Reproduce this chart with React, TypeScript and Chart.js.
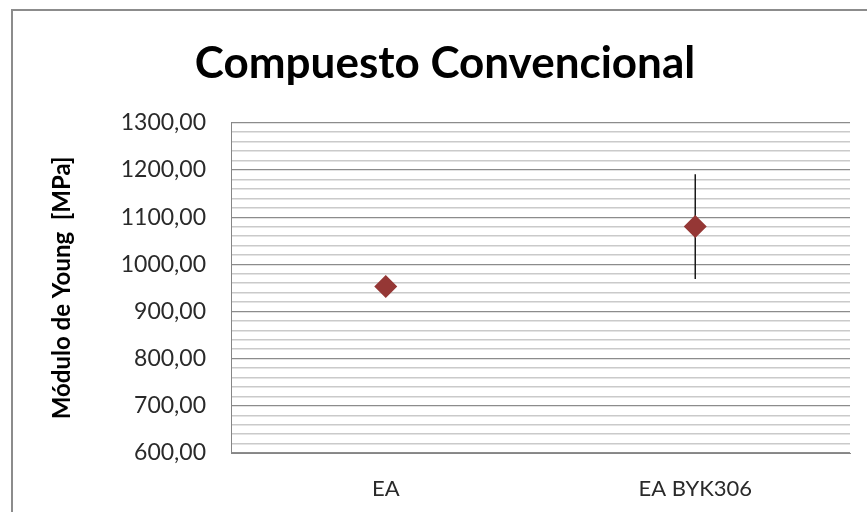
import React, { useEffect, useRef } from "react";
import { Chart, registerables } from "chart.js";

Chart.register(...registerables);

const categories = ["EA", "EA BYK306"];
const youngModulus = [953, 1080];
const youngError = [0, 111];
const yMin = 600;
const yMax = 1300;
const yStep = 20;
const yLabelStep = 100;

const FONT = "Lato, 'Open Sans', sans-serif";

const errorBarPlugin = {
  id: "errorBars",
  beforeDatasetsDraw(chart: any) {
    const { ctx, scales } = chart;
    const xs = scales.x;
    const ys = scales.y;
    ctx.save();
    ctx.strokeStyle = "#1a1a1a";
    ctx.lineWidth = 1.5;
    youngModulus.forEach((v, i) => {
      const e = youngError[i];
      if (!e) return;
      const x = xs.getPixelForValue(i);
      ctx.beginPath();
      ctx.moveTo(x, ys.getPixelForValue(v + e));
      ctx.lineTo(x, ys.getPixelForValue(v - e));
      ctx.stroke();
    });
    ctx.restore();
  },
};

export default function App() {
  const ref = useRef<HTMLCanvasElement>(null);
  useEffect(() => {
    if (!ref.current) return;
    const chart = new Chart(ref.current, {
      type: "line",
      data: {
        labels: categories,
        datasets: [
          {
            label: "Módulo de Young",
            data: youngModulus,
            showLine: false,
            pointStyle: "rectRot",
            pointRadius: 11.5,
            pointHoverRadius: 11.5,
            backgroundColor: "#953735",
            borderColor: "#953735",
            borderWidth: 0,
          },
        ],
      },
      options: {
        responsive: false,
        animation: false,
        events: [],
        layout: { padding: { left: 40, right: 17, top: 0, bottom: 0 } },
        plugins: {
          legend: { display: false },
          tooltip: { enabled: false },
          title: {
            display: true,
            text: "Compuesto Convencional",
            color: "#000",
            font: { family: FONT, size: 44, weight: "bold" },
            padding: { top: 37, bottom: 33 },
          },
        },
        scales: {
          x: {
            type: "category",
            offset: true,
            grid: { display: false, drawTicks: false },
            border: { display: true, color: "#868686", width: 1 },
            ticks: {
              color: "#2a2a2a",
              font: { family: FONT, size: 22 },
              padding: 23,
            },
            afterFit(scale: any) {
              scale.height = 59;
            },
          },
          y: {
            min: yMin,
            max: yMax,
            grid: {
              drawTicks: false,
              color: (c: any) =>
                c.tick && c.tick.value % yLabelStep === 0 ? "#8c8c8c" : "#cacaca",
              lineWidth: (c: any) =>
                c.tick && c.tick.value % yLabelStep === 0 ? 1.2 : 1.5,
            },
            border: { display: true, color: "#868686", width: 1 },
            ticks: {
              stepSize: yStep,
              autoSkip: false,
              color: "#2a2a2a",
              font: { family: FONT, size: 23 },
              padding: 25,
              callback: (v: any) =>
                Number(v) % yLabelStep === 0 ? Number(v).toFixed(2).replace(".", ",") : "",
            },
            title: {
              display: true,
              text: "Módulo de Young  [MPa]",
              color: "#000",
              font: { family: FONT, size: 24, weight: "bold" },
              padding: { top: 8, bottom: 0 },
            },
            afterFit(scale: any) {
              scale.width = 191;
            },
          },
        },
      },
      plugins: [errorBarPlugin],
    });
    return () => chart.destroy();
  }, []);

  return (
    <div
      style={{
        position: "fixed",
        left: 0,
        top: 0,
        width: 867,
        height: 512,
        overflow: "hidden",
        background: "#fff",
      }}
    >
      <div
        style={{
          position: "absolute",
          left: 11,
          top: 9,
          width: 1000,
          height: 1000,
          border: "2px solid #8c8c8c",
        }}
      />
      <canvas
        ref={ref}
        width={867}
        height={512}
        style={{ position: "absolute", left: 0, top: 0 }}
      />
    </div>
  );
}
